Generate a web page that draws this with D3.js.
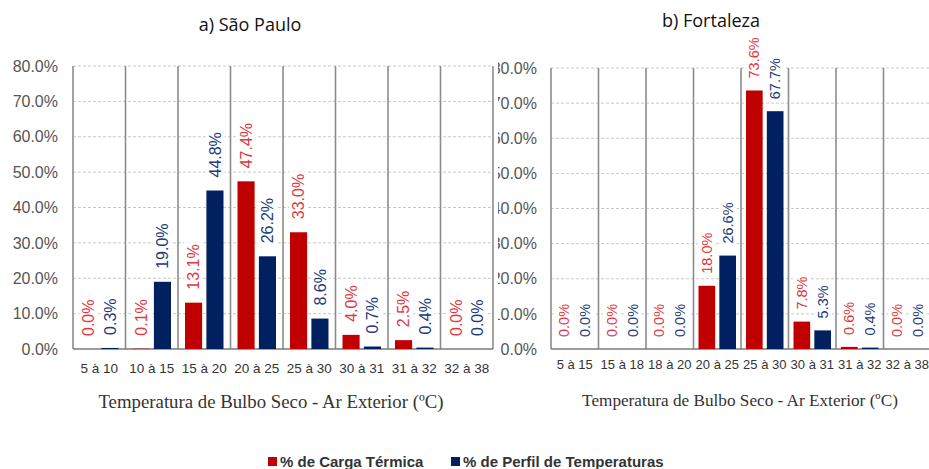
<!DOCTYPE html>
<html>
<head>
<meta charset="utf-8">
<script src="https://cdn.jsdelivr.net/npm/d3@7"></script>
<style>
  body { margin: 0; background: #fff; }
  svg { display: block; }
  .tick text { font-family: "Liberation Sans", Arial, sans-serif; }
</style>
</head>
<body>
<svg id="chart" width="929" height="469"></svg>
<script>
// São Paulo
const catsSP = ['5 à 10', '10 à 15', '15 à 20', '20 à 25', '25 à 30', '30 à 31', '31 à 32', '32 à 38'];
const cargaSP = [0.0, 0.1, 13.1, 47.4, 33.0, 4.0, 2.5, 0.0];
const perfilSP = [0.3, 19.0, 44.8, 26.2, 8.6, 0.7, 0.4, 0.0];

// Fortaleza
const catsFO = ['5 à 15', '15 à 18', '18 à 20', '20 à 25', '25 à 30', '30 à 31', '31 à 32', '32 à 38'];
const cargaFO = [0.0, 0.0, 0.0, 18.0, 73.6, 7.8, 0.6, 0.0];
const perfilFO = [0.0, 0.0, 0.0, 26.6, 67.7, 5.3, 0.4, 0.0];

const yTicks = [0, 10, 20, 30, 40, 50, 60, 70, 80];
const seriesNames = ['% de Carga Térmica', '% de Perfil de Temperaturas'];

const barColors = ['#C00000', '#002060'];
const labelColors = ['#E0383C', '#223A7A'];

const svg = d3.select('#chart');

function drawPanel(cfg) {
  const { left, right, top, bottom, cats, carga, perfil } = cfg;
  const root = svg.append('g');
  if (cfg.clipX != null) {
    svg.append('clipPath').attr('id', cfg.id + '-clip')
      .append('rect').attr('x', cfg.clipX).attr('y', 0).attr('width', 929 - cfg.clipX).attr('height', 469);
    root.attr('clip-path', `url(#${cfg.id}-clip)`);
    root.append('rect').attr('x', cfg.clipX).attr('y', 0).attr('width', 929 - cfg.clipX).attr('height', 469).attr('fill', '#fff');
  }

  const xScale = d3.scaleBand().domain(cats).range([left, right]);
  const yScale = d3.scaleLinear().domain([0, 80]).range([bottom, top]);
  const inner = d3.scaleBand().domain([0, 1])
    .range([cfg.barInset, xScale.bandwidth() - cfg.barInsetR]).paddingInner(0.2);

  // horizontal dashed grid
  root.append('g').selectAll('line').data(yTicks.filter(t => t > 0)).enter().append('line')
    .attr('x1', left).attr('x2', right)
    .attr('y1', d => yScale(d)).attr('y2', d => yScale(d))
    .style('stroke', '#c8c8c8').style('stroke-width', 1).style('stroke-dasharray', '3,2');

  // vertical grid
  root.append('g').selectAll('line').data(cats.concat(['__end'])).enter().append('line')
    .attr('x1', (d, i) => left + i * xScale.step()).attr('x2', (d, i) => left + i * xScale.step())
    .attr('y1', top).attr('y2', bottom)
    .style('stroke', '#8c8c8c').style('stroke-width', 1.6);

  // baseline
  root.append('line').attr('x1', left).attr('x2', right).attr('y1', bottom).attr('y2', bottom)
    .style('stroke', '#7a7a7a').style('stroke-width', 1.6);

  const rows = cats.map((c, i) => ({ cat: c, vals: [carga[i], perfil[i]] }));
  const items = [];
  rows.forEach(r => r.vals.forEach((v, s) => items.push({ cat: r.cat, s, v })));

  root.append('g').selectAll('rect').data(items).enter().append('rect')
    .attr('x', d => xScale(d.cat) + inner(d.s))
    .attr('width', inner.bandwidth())
    .attr('y', d => yScale(d.v))
    .attr('height', d => bottom - yScale(d.v))
    .style('fill', d => barColors[d.s]);

  // value labels, rotated, with white backing
  const lab = root.append('g').selectAll('g').data(items).enter().append('g')
    .attr('transform', d => `translate(${xScale(d.cat) + inner(d.s) + inner.bandwidth() / 2},${yScale(d.v) - cfg.labelGap}) rotate(-90)`);
  lab.append('text')
    .attr('x', 0).attr('y', 0).attr('dy', '0.35em')
    .attr('text-anchor', 'start')
    .style('font-family', '"Liberation Sans", Arial, sans-serif')
    .style('font-size', cfg.labelSize + 'px')
    .style('fill', d => labelColors[d.s])
    .text(d => d.v.toFixed(1) + '%')
    .each(function () {
      const b = this.getBBox();
      d3.select(this.parentNode).insert('rect', 'text')
        .attr('x', b.x - 2).attr('y', b.y - 1).attr('width', b.width + 4).attr('height', b.height + 2)
        .style('fill', '#fff');
    });

  // y axis
  const yAxis = root.append('g').attr('transform', `translate(${left},0)`)
    .call(d3.axisLeft(yScale).tickValues(yTicks).tickSize(0).tickPadding(cfg.yPad).tickFormat(d => d.toFixed(1) + '%'));
  yAxis.select('.domain').remove();
  yAxis.selectAll('text').style('font-size', cfg.yFont + 'px').style('fill', '#555');

  // x axis
  const xAxis = root.append('g').attr('transform', `translate(0,${bottom})`)
    .call(d3.axisBottom(xScale).tickSize(0).tickPadding(cfg.xPad));
  xAxis.select('.domain').remove();
  xAxis.selectAll('text').style('font-size', cfg.xFont + 'px').style('fill', '#333');

  // axis title
  root.append('text')
    .attr('x', cfg.axisTitleX).attr('y', cfg.axisTitleY)
    .attr('text-anchor', 'middle')
    .style('font-family', '"Liberation Serif", "Times New Roman", serif')
    .style('font-size', cfg.axisTitleSize + 'px')
    .style('fill', '#333')
    .text('Temperatura de Bulbo Seco - Ar Exterior (ºC)');

  // panel title
  root.append('text')
    .attr('x', cfg.titleX).attr('y', cfg.titleY)
    .attr('text-anchor', 'middle')
    .style('font-family', '"Open Sans", "Noto Sans", sans-serif')
    .style('font-size', '18px')
    .style('fill', '#111')
    .text(cfg.title);
}

drawPanel({
  id: 'sp', title: 'a) São Paulo', titleX: 250, titleY: 31,
  left: 73, right: 493, top: 66, bottom: 349,
  cats: catsSP, carga: cargaSP, perfil: perfilSP,
  barInset: 7, barInsetR: 7, labelGap: 13, labelSize: 16,
  yPad: 15, yFont: 16, xPad: 14, xFont: 13.5,
  axisTitleX: 271, axisTitleY: 408, axisTitleSize: 18.8
});

drawPanel({
  id: 'fo', title: 'b) Fortaleza', titleX: 711, titleY: 27, clipX: 498,
  left: 551, right: 931, top: 68, bottom: 349,
  cats: catsFO, carga: cargaFO, perfil: perfilFO,
  barInset: 5, barInsetR: 5, labelGap: 12, labelSize: 14.5,
  yPad: 14, yFont: 16, xPad: 11, xFont: 13,
  axisTitleX: 740, axisTitleY: 406, axisTitleSize: 17.2
});

// legend
const legend = svg.append('g').attr('transform', 'translate(268,462)');
const legendX = [0, 183];
seriesNames.forEach((name, i) => {
  const g = legend.append('g').attr('transform', `translate(${legendX[i]},0)`);
  g.append('rect').attr('x', 0).attr('y', -5).attr('width', 9).attr('height', 9).style('fill', barColors[i]);
  g.append('text').attr('x', 12).attr('y', 0).attr('dy', '0.35em')
    .style('font-family', '"Liberation Sans", Arial, sans-serif')
    .style('font-size', '15px').style('font-weight', 'bold').style('fill', '#333')
    .text(name);
});
</script>
</body>
</html>
